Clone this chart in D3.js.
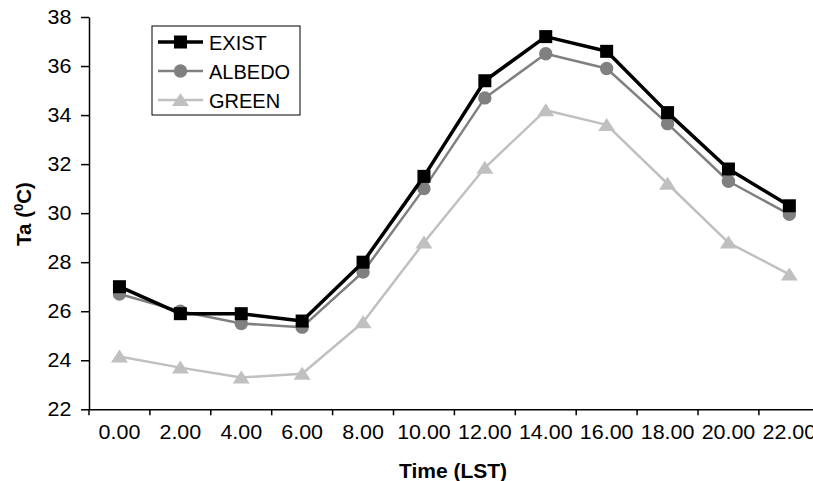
<!DOCTYPE html>
<html>
<head>
<meta charset="utf-8">
<script src="https://cdn.jsdelivr.net/npm/d3@7"></script>
<style>
body { margin: 0; background: #fff; }
text { font-family: "Liberation Sans", Arial, sans-serif; }
</style>
</head>
<body>
<div id="chart"></div>
<script>
// data
var hours = ["0.00", "2.00", "4.00", "6.00", "8.00", "10.00", "12.00", "14.00", "16.00", "18.00", "20.00", "22.00"]
var exist = [27.0, 25.9, 25.9, 25.6, 28.0, 31.5, 35.4, 37.2, 36.6, 34.1, 31.8, 30.3]
var albedo = [26.7, 26.0, 25.5, 25.35, 27.6, 31.0, 34.7, 36.5, 35.9, 33.65, 31.3, 29.95]
var green = [24.15, 23.7, 23.3, 23.45, 25.55, 28.8, 31.85, 34.2, 33.6, 31.2, 28.8, 27.5]
var yTicks = [22, 24, 26, 28, 30, 32, 34, 36, 38]
var seriesNames = ["EXIST", "ALBEDO", "GREEN"]

var W = 813, H = 481
var svg = d3.select("#chart").append("svg").attr("width", W).attr("height", H)

var x = d3.scaleBand().domain(hours).range([89, 89 + 12 * 60.9]).padding(0)
var y = d3.scaleLinear().domain([22, 38]).range([409.3, 17])

var series = [
    { name: "EXIST", values: exist, color: "#000000", width: 3.5, marker: "square" },
    { name: "ALBEDO", values: albedo, color: "#808080", width: 2.5, marker: "circle" },
    { name: "GREEN", values: green, color: "#c0c0c0", width: 2.5, marker: "triangle" }
]

// y axis
var yAxis = svg.append("g").attr("transform", "translate(89,0)")
    .call(d3.axisLeft(y).tickValues(yTicks).tickSize(8).tickSizeOuter(0).tickPadding(8).tickFormat(d3.format("d")))
yAxis.selectAll("text").style("font-size", "19.5px").attr("fill", "#000").attr("transform", "scale(1.1,1)")
yAxis.selectAll("line").attr("stroke", "#000").attr("stroke-width", 1.5)
yAxis.select(".domain").attr("stroke", "#000").attr("stroke-width", 1.5)

// x axis: labels centred in categories, ticks on boundaries
var xAxis = svg.append("g").attr("transform", "translate(0,409.3)")
    .call(d3.axisBottom(x).tickSize(0).tickSizeOuter(0).tickPadding(16))
xAxis.selectAll("text").style("font-size", "19.5px").attr("fill", "#000").attr("transform", "scale(1.1,1)")
xAxis.select(".domain").attr("stroke", "#000").attr("stroke-width", 1.5)
xAxis.selectAll(".bound").data(hours).enter().append("line")
    .attr("class", "bound")
    .attr("x1", function(d) { return x(d) }).attr("x2", function(d) { return x(d) })
    .attr("y1", 0).attr("y2", 6)
    .attr("stroke", "#000").attr("stroke-width", 1.5)
xAxis.append("line")
    .attr("x1", x.range()[1]).attr("x2", x.range()[1])
    .attr("y1", 0).attr("y2", 6)
    .attr("stroke", "#000").attr("stroke-width", 1.5)

// axis titles
svg.append("text").attr("x", 453).attr("y", 478).attr("text-anchor", "middle")
    .style("font-size", "21px").style("font-weight", "bold").text("Time (LST)")

var ylab = svg.append("text").attr("transform", "translate(31,214) rotate(-90)")
    .attr("text-anchor", "middle").style("font-size", "20.5px").style("font-weight", "bold")
ylab.append("tspan").text("Ta (")
ylab.append("tspan").attr("dy", -8).style("font-size", "13px").text("0")
ylab.append("tspan").attr("dy", 8).text("C)")

function drawMarker(g, type, color) {
    if (type == "square") {
        g.append("rect").attr("x", -6.5).attr("y", -6.5).attr("width", 13).attr("height", 13).attr("fill", color)
    } else if (type == "circle") {
        g.append("circle").attr("r", 6.7).attr("fill", color)
    } else {
        g.append("path").attr("d", "M0,-7L8.5,6L-8.5,6Z").attr("fill", color)
    }
}

var line = d3.line()
    .x(function(d, i) { return x(hours[i]) + x.bandwidth() / 2 })
    .y(function(d) { return y(d) })

// draw lighter series first so EXIST sits on top
series.slice().reverse().forEach(function(s) {
    svg.append("path").datum(s.values).attr("d", line)
        .attr("fill", "none").attr("stroke", s.color).attr("stroke-width", s.width)
        .attr("stroke-linejoin", "round")
    s.values.forEach(function(v, i) {
        var m = svg.append("g").attr("transform", "translate(" + (x(hours[i]) + x.bandwidth() / 2) + "," + y(v) + ")")
        drawMarker(m, s.marker, s.color)
    })
})

// legend
var legend = svg.append("g")
legend.append("rect").attr("x", 152).attr("y", 26).attr("width", 148).attr("height", 89)
    .attr("fill", "#fff").attr("stroke", "#000").attr("stroke-width", 1)
series.forEach(function(s, i) {
    var ly = 42 + i * 29
    legend.append("line").attr("x1", 158).attr("x2", 203).attr("y1", ly).attr("y2", ly)
        .attr("stroke", s.color).attr("stroke-width", s.width)
    var m = legend.append("g").attr("transform", "translate(180.5," + ly + ")")
    drawMarker(m, s.marker, s.color)
    legend.append("text").attr("x", 209).attr("y", ly + 7.5).style("font-size", "20px").text(seriesNames[i])
})
</script>
</body>
</html>
